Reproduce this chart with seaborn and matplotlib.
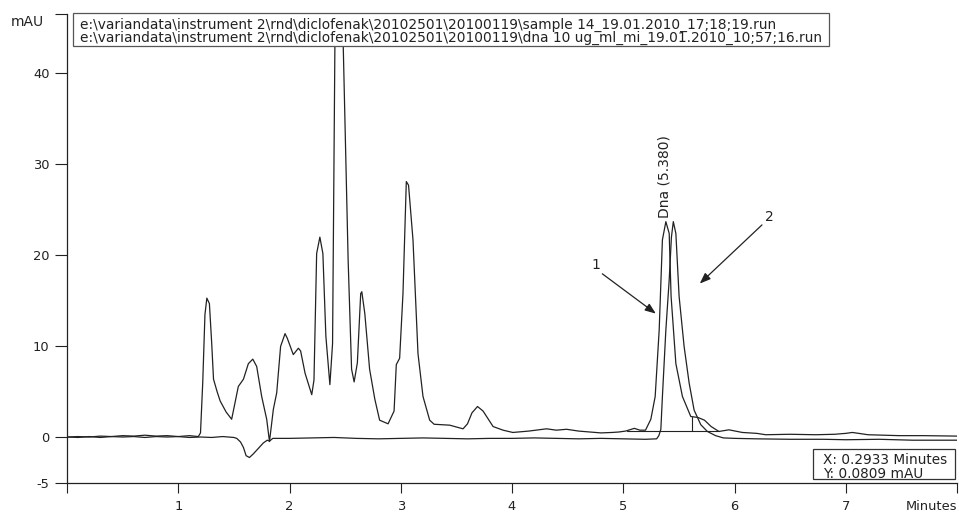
import matplotlib
matplotlib.use("Agg")
import matplotlib.pyplot as plt
from matplotlib.patches import Rectangle
import seaborn as sns

# trace 1: sample 14 (minutes, mAU)
sample_t = [0.0, 0.1, 0.2, 0.3, 0.4, 0.5, 0.6, 0.7, 0.8, 0.9, 1.0, 1.1, 1.18,
            1.2, 1.22, 1.24, 1.257, 1.28, 1.30, 1.317, 1.35, 1.377, 1.43, 1.48,
            1.51, 1.54, 1.586, 1.63, 1.67, 1.705, 1.75, 1.795, 1.82, 1.855,
            1.885, 1.92, 1.96, 1.98, 2.034, 2.08, 2.1, 2.14, 2.2, 2.22, 2.244,
            2.273, 2.3, 2.327, 2.363, 2.387, 2.408, 2.43, 2.46, 2.483, 2.527,
            2.558, 2.581, 2.61, 2.64, 2.65, 2.677, 2.72, 2.767, 2.81, 2.886,
            2.94, 2.96, 2.99, 3.02, 3.05, 3.07, 3.11, 3.155, 3.2, 3.26, 3.3,
            3.44, 3.56, 3.6, 3.64, 3.69, 3.74, 3.83, 3.92, 4.007, 4.15, 4.31,
            4.4, 4.49, 4.6, 4.7, 4.8, 4.9, 4.96, 5.02, 5.1, 5.15, 5.2, 5.248,
            5.287, 5.323, 5.352, 5.383, 5.413, 5.43, 5.473, 5.532, 5.607, 5.67,
            5.73, 5.79, 5.86, 5.95, 6.07, 6.2, 6.28, 6.5, 6.73, 6.9, 7.0, 7.06,
            7.2, 7.48, 7.7, 8.0]
sample_v = [0.05, 0.1, 0.05, 0.15, 0.1, 0.2, 0.15, 0.25, 0.15, 0.2, 0.1, 0.2, 0.1,
            0.5, 6.0, 13.5, 15.3, 14.7, 10.5, 6.4, 5.0, 4.0, 2.8, 2.0,
            3.8, 5.6, 6.4, 8.1, 8.6, 7.8, 4.5, 2.0, -0.45, 3.1,
            4.9, 10.0, 11.4, 10.9, 9.1, 9.8, 9.5, 7.05, 4.7, 6.3, 20.2,
            22.0, 20.2, 11.1, 5.8, 10.3, 43.0, 58.0, 58.0, 43.0, 19.5,
            7.5, 6.1, 8.2, 15.8, 16.0, 13.6, 7.5, 4.2, 1.9, 1.5,
            2.9, 8.0, 8.7, 15.8, 28.1, 27.7, 21.7, 9.2, 4.5, 1.9, 1.45,
            1.35, 0.95, 1.5, 2.7, 3.4, 2.9, 1.2, 0.8, 0.55, 0.7, 0.95,
            0.8, 0.9, 0.7, 0.6, 0.5, 0.55, 0.6, 0.7, 1.0, 0.8, 0.8, 2.0,
            4.5, 11.8, 21.7, 23.7, 22.4, 15.5, 8.1, 4.5, 2.3, 2.2,
            1.9, 1.2, 0.66, 0.84, 0.55, 0.45, 0.3, 0.35, 0.3, 0.35, 0.45, 0.55,
            0.3, 0.2, 0.2, 0.15]

# trace 2: dna 10 ug/ml standard
std_t = [0.0, 0.1, 0.2, 0.3, 0.4, 0.5, 0.6, 0.7, 0.8, 0.9, 1.0, 1.1, 1.2, 1.3,
         1.4, 1.5, 1.526, 1.56, 1.586, 1.61, 1.64, 1.675, 1.72, 1.765, 1.8,
         1.82, 1.85, 2.0, 2.2, 2.4, 2.6, 2.8, 3.0, 3.2, 3.4, 3.6, 3.8, 4.0,
         4.2, 4.4, 4.6, 4.8, 5.0, 5.2, 5.3, 5.32, 5.338, 5.352, 5.383, 5.413,
         5.433, 5.45, 5.473, 5.502, 5.547, 5.592, 5.637, 5.697, 5.756, 5.83,
         5.9, 6.0, 6.2, 6.5, 6.8, 7.0, 7.3, 7.6, 8.0]
std_v = [0.05, 0.0, 0.1, 0.0, 0.1, 0.05, 0.1, 0.0, 0.1, 0.05, 0.1, 0.0, 0.05, 0.0,
         0.1, 0.0, -0.1, -0.5, -1.1, -2.0, -2.2, -1.8, -1.2, -0.6, -0.3,
         -0.4, -0.1, -0.1, -0.05, 0.0, -0.1, -0.15, -0.1, -0.05, -0.1, -0.15, -0.1, -0.1,
         -0.05, -0.1, -0.15, -0.1, -0.15, -0.2, -0.15, 0.2, 0.9, 4.5, 11.8, 17.3,
         22.0, 23.7, 22.4, 15.5, 10.0, 6.0, 3.0, 1.4, 0.66, 0.2,
         -0.05, -0.1, -0.15, -0.2, -0.2, -0.25, -0.2, -0.3, -0.3]

# integration marks of the Dna peak
base_t = [5.03, 5.86]
base_v = [0.7, 0.7]
drop_t = [5.62, 5.62]
drop_v = [0.7, 2.3]

x_ticks = [0, 1, 2, 3, 4, 5, 6, 7, 8]
x_labels = ['', '1', '2', '3', '4', '5', '6', '7', 'Minutes']
y_ticks = [-5, 0, 10, 20, 30, 40, 46.5]
y_labels = ['-5', '0', '10', '20', '30', '40', '']

files = [r"e:\variandata\instrument 2\rnd\diclofenak\20102501\20100119\sample 14_19.01.2010_17;18;19.run",
         r"e:\variandata\instrument 2\rnd\diclofenak\20102501\20100119\dna 10 ug_ml_mi_19.01.2010_10;57;16.run"]
cursor = ["X: 0.2933 Minutes", "Y: 0.0809 mAU"]

sns.set_style("white")
plt.rcParams['font.family'] = ['DejaVu Sans']

ink = '#222222'
fig = plt.figure(figsize=(9.59, 5.12), dpi=100)
W, H = 959, 512
ax = fig.add_axes([67 / W, 1 - 483 / H, 890 / W, 469 / H])

sns.lineplot(x=sample_t, y=sample_v, ax=ax, sort=False, estimator=None, color=ink, lw=0.9)
sns.lineplot(x=std_t, y=std_v, ax=ax, sort=False, estimator=None, color=ink, lw=0.9)
ax.plot(base_t, base_v, color=ink, lw=0.8)
ax.plot(drop_t, drop_v, color=ink, lw=0.8)

ax.set_xlim(0, 8)
ax.set_ylim(-5, 46.5)
ax.set_xticks(x_ticks)
ax.set_xticklabels(x_labels)
ax.get_xticklabels()[-1].set_horizontalalignment('right')
ax.set_yticks(y_ticks)
ax.set_yticklabels(y_labels)
ax.tick_params(axis='x', direction='out', length=7, width=0.8, colors=ink, labelsize=9.4, pad=5, bottom=True)
ax.tick_params(axis='y', direction='out', length=8.5, width=0.8, colors=ink, labelsize=9.4, pad=4, left=True)
for s in ['top', 'right']:
    ax.spines[s].set_visible(False)
for s in ['left', 'bottom']:
    ax.spines[s].set_color(ink)
    ax.spines[s].set_linewidth(0.9)

fig.text(11 / W, 1 - 26 / H, 'mAU', fontsize=10, color=ink, va='baseline')

# peak label and arrows
ax.text(5.368, 24.05, 'Dna (5.380)', rotation=90, ha='center', va='bottom', fontsize=10, color=ink)
arrow = dict(arrowstyle='-|>,head_length=0.65,head_width=0.25', color=ink, lw=0.9,
             mutation_scale=10, shrinkA=0, shrinkB=0)
ax.annotate('', xy=(5.293, 13.6), xytext=(4.812, 17.97), arrowprops=arrow)
ax.annotate('', xy=(5.688, 16.9), xytext=(6.247, 23.34), arrowprops=arrow)
ax.text(4.755, 18.96, '1', ha='center', va='center', fontsize=10, color=ink)
ax.text(6.309, 24.2, '2', ha='center', va='center', fontsize=10, color=ink)

# file name box (one text block, tight line spacing as in the instrument printout)
fig.patches.append(Rectangle((73 / W, 1 - 46 / H), 756 / W, 33 / H, transform=fig.transFigure,
                             facecolor='white', edgecolor='#555555', lw=0.9, zorder=5))
fig.text(80 / W, 1 - 18 / H, '\n'.join(files), fontsize=9.9, color=ink, va='top',
         linespacing=0.85, zorder=6)

# cursor readout box
fig.patches.append(Rectangle((813 / W, 1 - 479 / H), 142 / W, 30 / H, transform=fig.transFigure,
                             facecolor='white', edgecolor='#333333', lw=0.9, zorder=5))
fig.text(823 / W, 1 - 453 / H, '\n'.join(cursor), fontsize=9.8, color=ink, va='top',
         linespacing=1.0, zorder=6)

fig.savefig('out.png', dpi=100)
plt.close(fig)
